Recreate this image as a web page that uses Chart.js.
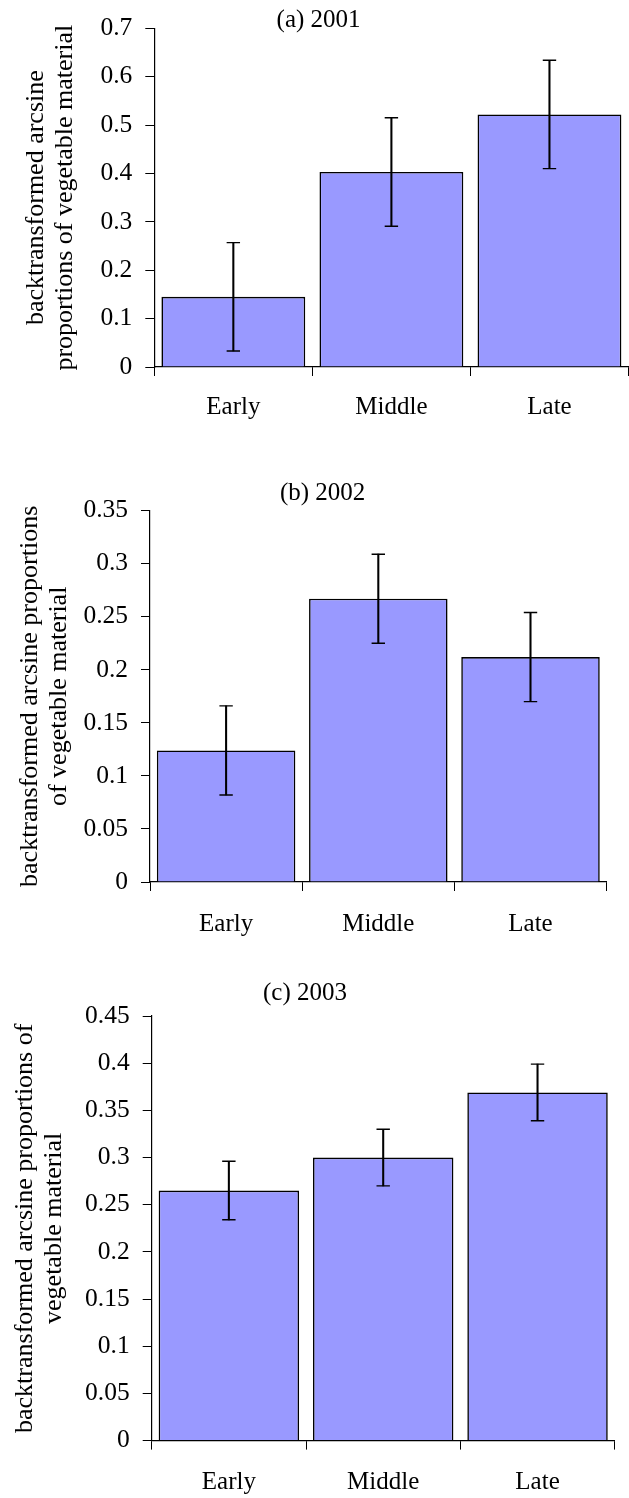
<!DOCTYPE html>
<html>
<head>
<meta charset="utf-8">
<script src="https://cdn.jsdelivr.net/npm/chart.js@4.4.1/dist/chart.umd.min.js"></script>
<style>
  html, body { margin: 0; padding: 0; background: #fff; overflow: hidden; }
  body { width: 629px; height: 1498px; position: relative; }
  .panel { position: absolute; left: 0; }
</style>
</head>
<body>
<div class="panel" style="top:0px"><canvas id="c2001" width="629" height="438"></canvas></div>
<div class="panel" style="top:470px"><canvas id="c2002" width="629" height="487"></canvas></div>
<div class="panel" style="top:965px"><canvas id="c2003" width="629" height="550"></canvas></div>
<script>
const categories = ['Early', 'Middle', 'Late'];

// means and +/- error for each season
const mean2001 = [0.145, 0.403, 0.522];
const err2001 = [0.112, 0.112, 0.112];
const mean2002 = [0.124, 0.267, 0.212];
const err2002 = [0.042, 0.042, 0.042];
const mean2003 = [0.265, 0.300, 0.369];
const err2003 = [0.031, 0.030, 0.030];

const yMax = [0.7, 0.35, 0.45];
const yStep = [0.1, 0.05, 0.05];
const panelTitles = ['(a) 2001', '(b) 2002', '(c) 2003'];
const axisTitles = [
  ['backtransformed arcsine', 'proportions of vegetable material'],
  ['backtransformed arcsine proportions', 'of vegetable material'],
  ['backtransformed arcsine proportions of', 'vegetable material']
];

const SERIF = "'Liberation Serif', 'Times New Roman', serif";

// per-panel placement
const layouts = [
  { id: 'c2001', top: 17.3, right: 0.5, axisWidth: 154.3, titleOffset: 21.6, labelPad: 16, title: [318.6, 20.7] },
  { id: 'c2002', top: 40.7, right: 22.4, axisWidth: 150, titleOffset: 15.6, labelPad: 18, title: [322.6, 23.3] },
  { id: 'c2003', top: 51, right: 14.3, axisWidth: 151.7, titleOffset: 10.6, labelPad: 17.7, title: [305, 28.3] }
];

// small title drawn over the plot, like the spreadsheet original
const panelTitle = {
  id: 'panelTitle',
  afterDraw(chart, args, opts) {
    const ctx = chart.ctx;
    ctx.save();
    ctx.font = '25px ' + SERIF;
    ctx.fillStyle = '#000';
    ctx.textAlign = 'center';
    ctx.textBaseline = 'middle';
    ctx.fillText(opts.text, opts.x, opts.y);
    ctx.restore();
  }
};

function makeChart(i, means, errs) {
  const lay = layouts[i];
  const hi = means.map((m, k) => m + errs[k]);
  const lo = means.map((m, k) => m - errs[k]);
  const capStyle = {
    type: 'line',
    showLine: false,
    pointStyle: 'line',
    pointRadius: 6.7,
    pointHoverRadius: 6.7,
    pointBorderWidth: 1.4,
    pointBorderColor: '#000',
    borderColor: '#000',
    order: 0
  };

  new Chart(document.getElementById(lay.id), {
    type: 'bar',
    data: {
      labels: categories,
      datasets: [
        {
          data: means,
          backgroundColor: '#9999ff',
          borderColor: '#000',
          borderWidth: 1.6,
          categoryPercentage: 1,
          barPercentage: 0.91,
          order: 2
        },
        {
          data: lo.map((v, k) => [v, hi[k]]),
          backgroundColor: '#000',
          borderWidth: 0,
          barThickness: 1.4,
          grouped: false,
          order: 1
        },
        Object.assign({ data: hi }, capStyle),
        Object.assign({ data: lo }, capStyle)
      ]
    },
    options: {
      responsive: false,
      animation: false,
      layout: {
        autoPadding: false,
        padding: { top: lay.top, right: lay.right, bottom: 0, left: 0 }
      },
      plugins: {
        legend: { display: false },
        tooltip: { enabled: false },
        panelTitle: { text: panelTitles[i], x: lay.title[0], y: lay.title[1] }
      },
      scales: {
        x: {
          grid: { drawOnChartArea: false, drawTicks: true, tickLength: 9, color: '#000', offset: true },
          border: { color: '#000', width: 1.2 },
          ticks: { color: '#000', padding: lay.labelPad, font: { family: SERIF, size: 25 } }
        },
        y: {
          min: 0,
          max: yMax[i],
          afterFit(scale) { scale.width = lay.axisWidth; },
          grid: { drawOnChartArea: false, drawTicks: true, tickLength: 9, color: '#000' },
          border: { color: '#000', width: 1.2 },
          ticks: {
            stepSize: yStep[i],
            color: '#000',
            padding: 13,
            font: { family: SERIF, size: 25.5 },
            callback: v => String(Number(v.toFixed(2)))
          },
          title: {
            display: true,
            text: axisTitles[i],
            color: '#000',
            padding: { top: lay.titleOffset, bottom: 0 },
            font: { family: SERIF, size: 26, lineHeight: 1.12 }
          }
        }
      }
    },
    plugins: [panelTitle]
  });
}

makeChart(0, mean2001, err2001);
makeChart(1, mean2002, err2002);
makeChart(2, mean2003, err2003);
</script>
</body>
</html>
